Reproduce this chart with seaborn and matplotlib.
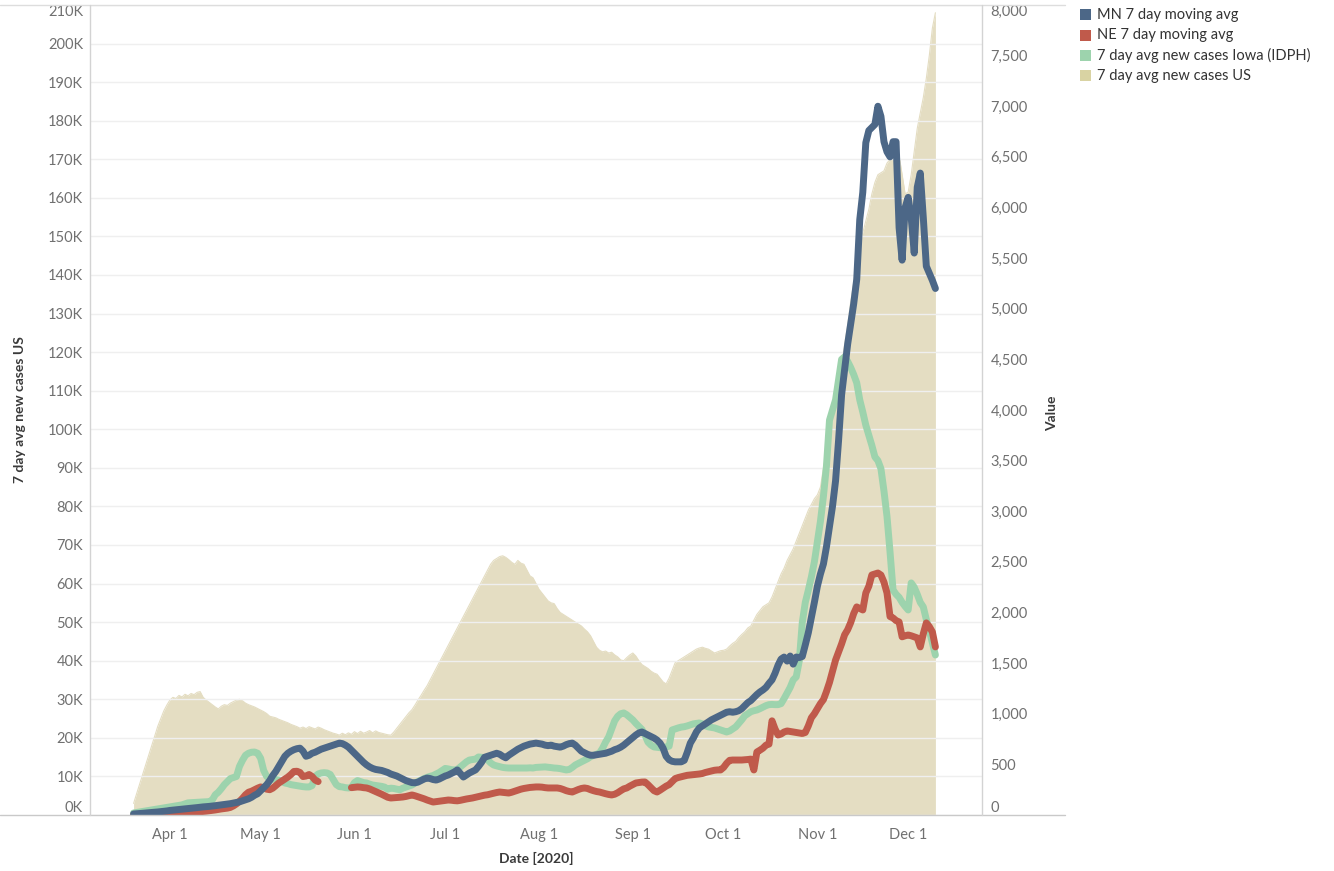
import numpy as np
import pandas as pd
import matplotlib
matplotlib.use("Agg")
import matplotlib.pyplot as plt
import seaborn as sns
from matplotlib.lines import Line2D
from matplotlib.patches import Rectangle

# ---------------- data (daily, 2020-03-20 .. 2020-12-10) ----------------
start_date = "2020-03-20"
end_date = "2020-12-10"

# 7 day avg new cases US (thousands) - left axis
us_cases_k = [
    3, 5.5, 8, 10.5, 13, 15.5, 18, 20.5, 23, 25,
    27, 28.5, 29.8, 30.5, 30.2, 31, 30.6, 31.3, 30.9, 31.5,
    31.2, 31.8, 32, 30.5, 29.8, 29.2, 28.6, 28, 27.5, 28.2,
    28.6, 28.4, 29, 29.4, 29.8, 30, 29.6, 29, 28.6, 28.3,
    28, 27.6, 27.2, 26.8, 26.3, 25.6, 25.4, 25.2, 24.8, 24.5,
    24.2, 23.9, 23.5, 23.2, 22.9, 22.5, 22.8, 22.4, 22.9, 22.6,
    22.3, 22.8, 22.5, 22.1, 21.8, 21.5, 21.2, 21, 20.7, 21.2,
    20.8, 21.3, 20.9, 21.6, 21.1, 21.7, 21.2, 21.5, 21.9, 21.3,
    21.8, 21.4, 21.2, 21.0, 20.8, 20.7, 21.5, 22.5, 23.5, 24.5,
    25.5, 26.5, 27.3, 28.5, 29.8, 31, 32.3, 33.5, 35, 36.5,
    38, 39.5, 41, 42.5, 44, 45.5, 47, 48.5, 50, 51.5,
    53, 54.5, 56, 57.5, 59, 60.5, 62, 63.5, 65, 66,
    66.5, 67, 67.2, 66.8, 66.2, 65.5, 65, 66, 65.3, 65,
    63.5, 62, 61.5, 60, 58.5, 57.5, 56.5, 55.5, 55, 54.8,
    53.5, 52.5, 52, 51.5, 51, 50.5, 50, 49.5, 49, 48.2,
    47.5, 46.5, 45, 43.5, 42.7, 42.3, 42.5, 42, 42.2, 41.5,
    41, 40.2, 40, 40.8, 41.5, 42, 41.2, 40, 39, 38.5,
    38, 37.3, 36.8, 36.5, 35.5, 34.5, 34, 35.5, 37.5, 39.5,
    40, 40.5, 41, 41.5, 42, 42.5, 43, 43.3, 43.5, 43.2,
    43, 42.5, 42, 42.3, 42.6, 42.7, 43, 43.8, 44.5, 45,
    46, 46.8, 47.5, 48.5, 49, 50.5, 52, 53, 54, 54.5,
    55, 56.5, 58.5, 60.5, 62.5, 64, 66, 67.5, 69, 71,
    73, 75, 77, 79, 80.5, 82, 83, 85, 90, 94,
    98, 103, 108, 112, 117, 122, 127, 133, 138, 144,
    148, 151, 154, 157, 161, 164, 166, 166.5, 167, 169,
    170, 171.5, 173, 171, 166, 161, 161.5, 166, 172, 178,
    182, 186, 191, 197, 204, 208,
]

# MN 7 day moving avg - right axis
mn_avg = [
    10, 12, 15, 17, 20, 22, 25, 27, 30, 33,
    36, 40, 45, 48, 52, 55, 58, 60, 63, 66,
    70, 73, 77, 80, 82, 85, 88, 92, 96, 100,
    104, 108, 112, 118, 124, 130, 140, 150, 160, 175,
    195, 210, 240, 270, 300, 340, 390, 430, 480, 530,
    580, 610, 630, 645, 655, 660, 630, 580, 590, 610,
    620, 635, 650, 660, 670, 680, 690, 700, 710, 705,
    690, 670, 640, 610, 580, 550, 520, 495, 475, 460,
    450, 445, 440, 430, 420, 405, 395, 385, 370, 355,
    340, 330, 320, 318, 325, 340, 355, 365, 360, 350,
    345, 355, 370, 385, 395, 410, 425, 445, 410, 375,
    395, 415, 430, 445, 480, 520, 570, 580, 590, 600,
    610, 600, 580, 565, 590, 610, 630, 650, 665, 680,
    690, 700, 705, 710, 705, 700, 690, 685, 690, 680,
    675, 670, 680, 695, 705, 710, 690, 660, 630, 615,
    600, 590, 590, 595, 600, 605, 610, 620, 630, 645,
    655, 670, 690, 715, 740, 765, 790, 810, 820, 805,
    790, 775, 760, 740, 710, 660, 580, 545, 530, 525,
    525, 525, 540, 620, 710, 760, 820, 860, 880, 900,
    920, 940, 955, 970, 985, 1000, 1015, 1020, 1015, 1020,
    1030, 1050, 1080, 1110, 1130, 1160, 1190, 1215, 1235, 1260,
    1300, 1335, 1400, 1480, 1540, 1560, 1520, 1570, 1490, 1560,
    1555, 1565, 1680, 1800, 1950, 2100, 2260, 2380, 2480, 2650,
    2850, 3050, 3300, 3700, 4150, 4400, 4650, 4850, 5050, 5290,
    5880, 6150, 6640, 6760, 6790, 6820, 7000, 6900, 6650, 6550,
    6500, 6650, 6650, 5800, 5480, 6000, 6100, 5900, 5550, 6200,
    6340, 5900, 5420, 5350, 5280, 5200,
]

nan = float("nan")
# NE 7 day moving avg - right axis (gap = missing data)
ne_avg = [
    0, 1, 2, 3, 4, 5, 6, 7, 8, 10,
    12, 14, 16, 18, 19, 20, 21, 22, 24, 26,
    28, 30, 32, 35, 38, 42, 46, 50, 55, 60,
    64, 68, 75, 90, 110, 135, 165, 200, 225, 235,
    250, 265, 277, 268, 255, 250, 265, 290, 316, 335,
    355, 375, 400, 430, 432, 420, 380, 385, 400, 380,
    345, 330, nan, nan, nan, nan, nan, nan, nan, nan,
    nan, nan, 270, 274, 277, 275, 270, 267, 258, 245,
    232, 220, 205, 190, 175, 168, 170, 172, 175, 178,
    183, 190, 198, 190, 180, 170, 160, 148, 138, 128,
    132, 136, 140, 144, 148, 146, 142, 140, 145, 152,
    158, 163, 168, 175, 183, 190, 196, 200, 208, 215,
    222, 227, 224, 220, 217, 225, 235, 245, 255, 262,
    267, 272, 275, 277, 277, 275, 270, 267, 267, 267,
    267, 262, 252, 240, 232, 227, 240, 252, 262, 267,
    262, 250, 240, 232, 227, 218, 210, 203, 198, 205,
    220, 240, 258, 267, 285, 300, 316, 320, 325, 326,
    300, 270, 240, 227, 245, 265, 285, 300, 330, 360,
    370, 378, 385, 392, 395, 398, 400, 405, 410, 420,
    428, 435, 442, 445, 445, 470, 510, 540, 543, 543,
    543, 543, 545, 548, 552, 445, 622, 640, 660, 690,
    700, 930, 850, 790, 800, 820, 830, 825, 820, 815,
    810, 805, 815, 880, 960, 1000, 1050, 1100, 1140, 1220,
    1310, 1420, 1530, 1610, 1690, 1780, 1830, 1900, 1990, 2055,
    2040, 2025, 2193, 2260, 2371, 2380, 2390, 2370, 2300, 2193,
    1960, 1946, 1920, 1907, 1760, 1770, 1778, 1770, 1760, 1749,
    1660, 1790, 1897, 1860, 1808, 1660,
]

# 7 day avg new cases Iowa (IDPH) - right axis
iowa_avg = [
    20, 25, 30, 35, 40, 45, 50, 55, 60, 65,
    70, 75, 80, 85, 90, 95, 100, 110, 120, 122,
    124, 126, 128, 129, 130, 132, 148, 200, 225, 260,
    300, 330, 360, 370, 380, 480, 540, 590, 610, 620,
    622, 610, 560, 440, 380, 360, 355, 350, 345, 330,
    316, 310, 300, 295, 290, 285, 280, 277, 277, 290,
    380, 405, 415, 418, 415, 400, 350, 300, 280, 277,
    270, 267, 272, 320, 340, 330, 320, 316, 305, 296,
    292, 288, 283, 275, 255, 265, 262, 255, 250, 265,
    275, 285, 296, 315, 330, 345, 360, 372, 382, 390,
    405, 420, 440, 460, 455, 448, 445, 450, 475, 500,
    525, 543, 548, 552, 573, 570, 565, 545, 515, 494,
    485, 478, 470, 466, 464, 464, 463, 464, 464, 465,
    464, 466, 464, 470, 472, 474, 475, 472, 468, 464,
    462, 458, 452, 445, 450, 470, 494, 510, 525, 540,
    555, 575, 590, 600, 612, 660, 720, 770, 850, 930,
    975, 1000, 1008, 990, 965, 939, 905, 875, 845, 790,
    720, 690, 672, 668, 665, 668, 672, 680, 840, 850,
    860, 868, 872, 880, 890, 900, 905, 909, 900, 880,
    870, 865, 860, 850, 840, 830, 820, 830, 850, 870,
    905, 940, 980, 1000, 1020, 1030, 1037, 1050, 1065, 1080,
    1090, 1092, 1090, 1090, 1100, 1150, 1205, 1260, 1334, 1364,
    1520, 1900, 2100, 2220, 2350, 2500, 2700, 2900, 3150, 3450,
    3900, 4000, 4100, 4300, 4500, 4525, 4480, 4420, 4350, 4268,
    4100, 3980, 3850, 3750, 3650, 3537, 3500, 3420, 3200, 2950,
    2600, 2223, 2180, 2150, 2100, 2060, 2025, 2292, 2250, 2180,
    2100, 2055, 1930, 1820, 1699, 1580,
]

series_names = ["MN 7 day moving avg", "NE 7 day moving avg",
                "7 day avg new cases Iowa (IDPH)", "7 day avg new cases US"]
left_ticks_k = list(range(0, 211, 10))
right_ticks = list(range(0, 8001, 500))
month_ticks = ["2020-04-01", "2020-05-01", "2020-06-01", "2020-07-01", "2020-08-01",
               "2020-09-01", "2020-10-01", "2020-11-01", "2020-12-01"]
month_labels = ["Apr 1", "May 1", "Jun 1", "Jul 1", "Aug 1", "Sep 1", "Oct 1", "Nov 1", "Dec 1"]

# ---------------- styling ----------------
MN_COLOR = "#4c6787"
NE_COLOR = "#c05a4b"
IA_COLOR = "#9dd3ad"
US_COLOR = "#e4ddc2"
US_SWATCH = "#d9d3a3"
TICK_COLOR = "#707070"
TITLE_COLOR = "#3a3a3a"
LINE_GRAY = "#d3d3d3"

dates = pd.date_range(start_date, end_date, freq="D")
assert len(dates) == len(us_cases_k) == len(mn_avg) == len(ne_avg) == len(iowa_avg), \
    (len(dates), len(us_cases_k), len(mn_avg), len(ne_avg), len(iowa_avg))

us_df = pd.DataFrame({"date": dates, "value": np.array(us_cases_k) * 1000})

sns.set_theme(style="white")
plt.rcParams["font.family"] = ["Lato", "DejaVu Sans"]

W, H = 1334, 871
fig = plt.figure(figsize=(W / 100, H / 100), dpi=100)
px = lambda x: x / W
py = lambda y: 1 - y / H
ax = fig.add_axes([px(90), py(815), px(982) - px(90), py(5) - py(815)])
ax2 = ax.twinx()

# US area (left axis)
ax.fill_between(us_df["date"], 0, us_df["value"], color=US_COLOR, lw=0, zorder=1)
sns.lineplot(data=us_df, x="date", y="value", ax=ax, color=US_COLOR, lw=0.8, zorder=1.1)

# state lines (right axis)
def draw_series(values, color):
    d = pd.DataFrame({"date": dates, "value": values})
    d["seg"] = d["value"].isna().cumsum()
    d = d.dropna()
    for _, part in d.groupby("seg"):
        sns.lineplot(data=part, x="date", y="value", ax=ax2, color=color, lw=5.0,
                     solid_joinstyle="round", solid_capstyle="round")

draw_series(iowa_avg, IA_COLOR)
draw_series(ne_avg, NE_COLOR)
draw_series(mn_avg, MN_COLOR)

# axes limits
t0 = pd.Timestamp(start_date)
ax.set_xlim(t0 - pd.Timedelta(hours=14.4 * 24), t0 + pd.Timedelta(hours=280.4 * 24))
ax.set_ylim(0, 210000)
ax2.set_ylim(0, 8000)

ax.set_xticks(pd.to_datetime(month_ticks))
ax.set_xticklabels(month_labels)
ax.set_yticks([v * 1000 for v in left_ticks_k])
ax.set_yticklabels([f"{v}K" for v in left_ticks_k])
ax2.set_yticks(right_ticks)
ax2.set_yticklabels([f"{v:,}" for v in right_ticks])

for a in (ax, ax2):
    a.set_xlabel("")
    a.set_ylabel("")
    a.tick_params(length=0, colors=TICK_COLOR, labelsize=10.5)
    for s in a.spines.values():
        s.set_visible(False)
ax.tick_params(axis="y", pad=5)
ax2.tick_params(axis="y", pad=6)
ax.tick_params(axis="x", pad=9)

# gridlines drawn over the area
ax.set_axisbelow(False)
ax.yaxis.grid(True, color="#efefef", lw=1.0, zorder=1.5)
ax.xaxis.grid(False)

# edge tick labels shifted inside like the reference
for lab in ax.get_yticklabels():
    if lab.get_text() == "0K":
        lab.set_va("bottom")
    elif lab.get_text() == "210K":
        lab.set_va("top")
for lab in ax2.get_yticklabels():
    if lab.get_text() == "0":
        lab.set_va("bottom")
    elif lab.get_text() == "8,000":
        lab.set_va("top")

# frame lines
fig.add_artist(Line2D([px(0), px(1065)], [py(815), py(815)], color="#c9c9c9", lw=1.0))
fig.add_artist(Line2D([px(0), px(1065)], [py(5), py(5)], color="#dddddd", lw=1.0))
fig.add_artist(Line2D([px(89.5), px(89.5)], [py(5), py(815)], color=LINE_GRAY, lw=1.0))
fig.add_artist(Line2D([px(982), px(982)], [py(5), py(815)], color=LINE_GRAY, lw=1.0))

# axis titles
fig.text(px(20), py(410), "7 day avg new cases US", rotation=90, ha="center", va="center",
         fontsize=10, color=TITLE_COLOR, fontweight="bold")
fig.text(px(1052), py(413), "Value", rotation=90, ha="center", va="center",
         fontsize=10, color=TITLE_COLOR, fontweight="bold")
fig.text(px(536), py(858), "Date [2020]", ha="center", va="center",
         fontsize=10, color=TITLE_COLOR, fontweight="bold")

# legend
leg_colors = [MN_COLOR, NE_COLOR, IA_COLOR, US_SWATCH]
for k, (name, col) in enumerate(zip(series_names, leg_colors)):
    yc = 15 + k * 20.3
    fig.add_artist(Rectangle((px(1080), py(yc + 5.5)), px(11), 11 / H, color=col,
                             transform=fig.transFigure, lw=0))
    fig.text(px(1097), py(yc), name, ha="left", va="center", fontsize=10.5, color="#333333")

fig.savefig("out.png", dpi=100)
